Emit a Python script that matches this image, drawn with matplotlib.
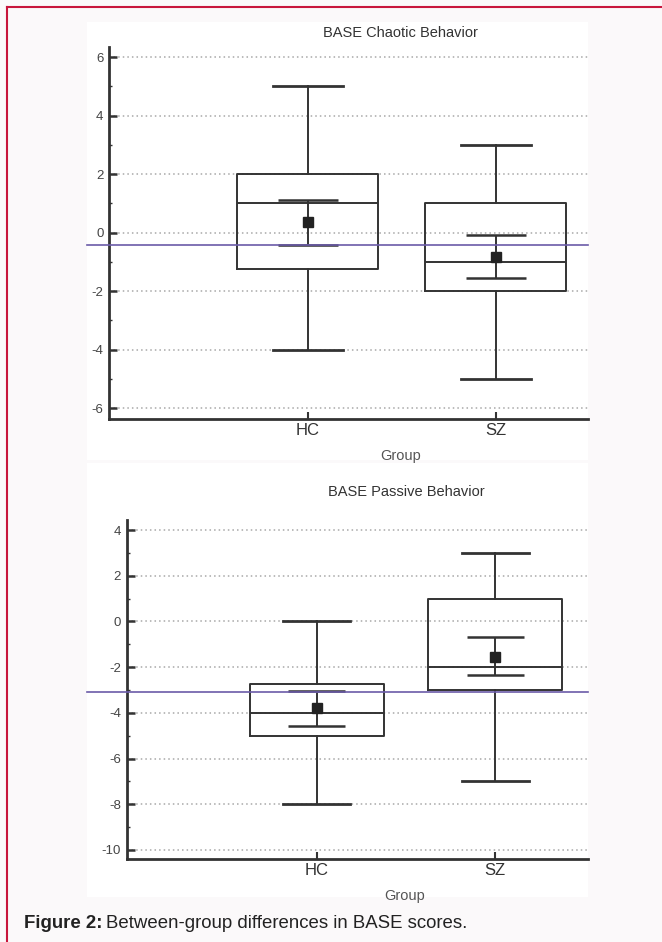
import matplotlib
matplotlib.use("Agg")
import matplotlib.pyplot as plt
from matplotlib.lines import Line2D
from matplotlib.patches import Rectangle
from matplotlib.ticker import MultipleLocator

plt.rcParams["font.family"] = ["Liberation Sans", "DejaVu Sans"]
plt.rcParams["axes.unicode_minus"] = False

GROUPS = ["HC", "SZ"]

# BASE Chaotic Behavior
chaotic_whislo = [-4, -5]
chaotic_q1 = [-1.25, -2]
chaotic_med = [1, -1]
chaotic_q3 = [2, 1]
chaotic_whishi = [5, 3]
chaotic_mean = [0.37, -0.83]
chaotic_ci_lo = [-0.43, -1.54]
chaotic_ci_hi = [1.13, -0.07]
chaotic_ref = -0.41

# BASE Passive Behavior
passive_whislo = [-8, -7]
passive_q1 = [-5, -3]
passive_med = [-4, -2]
passive_q3 = [-2.75, 1]
passive_whishi = [0, 3]
passive_mean = [-3.78, -1.56]
passive_ci_lo = [-4.56, -2.36]
passive_ci_hi = [-3.03, -0.7]
passive_ref = -3.07

W, H = 662, 942
LINE = "#333333"
GRID = "#a8a8a8"
PURPLE = "#6b5ba8"


def fx(px):
    return px / W


def fy(py):
    return 1 - py / H


def axes_rect(left, top, right, bottom):
    return [fx(left), fy(bottom), (right - left) / W, (bottom - top) / H]


def draw_panel(fig, rect, title, title_xy, xlabel_xy, ylim, xlim, data, ref, panel_left):
    whislo, q1, med, q3, whishi, mean, ci_lo, ci_hi = data
    ax = fig.add_axes(rect)
    ax.set_facecolor("none")
    positions = [1, 2]
    stats = []
    for i, g in enumerate(GROUPS):
        stats.append(dict(label=g, whislo=whislo[i], q1=q1[i], med=med[i],
                          q3=q3[i], whishi=whishi[i], mean=mean[i], fliers=[]))
    ax.bxp(stats, positions=positions, widths=0.75, capwidths=0.375,
           showmeans=False, patch_artist=False,
           boxprops=dict(color=LINE, linewidth=1.4),
           medianprops=dict(color=LINE, linewidth=1.4),
           whiskerprops=dict(color=LINE, linewidth=1.4),
           capprops=dict(color=LINE, linewidth=2.0),
           zorder=3)
    # confidence interval of the mean
    ax.vlines(positions, ci_lo, ci_hi, color=LINE, linewidth=1.4, zorder=4)
    for lo_hi in (ci_lo, ci_hi):
        for p, v in zip(positions, lo_hi):
            ax.hlines(v, p - 0.16, p + 0.16, color=LINE, linewidth=1.8, zorder=4)
    ax.plot(positions, mean, linestyle="none", marker="s", markersize=6.5,
            color="#222222", zorder=5)

    # reference line spanning the whole panel
    x0 = (panel_left - rect[0] * W) / (rect[2] * W)
    ax.axhline(ref, xmin=x0, xmax=1, color=PURPLE, linewidth=1.2,
               clip_on=False, zorder=6)

    ax.set_xlim(xlim)
    ax.set_ylim(ylim)
    ax.yaxis.set_major_locator(MultipleLocator(2))
    ax.yaxis.set_minor_locator(MultipleLocator(1))
    ax.grid(axis="y", which="major", color=GRID, linestyle=(0, (1, 2)),
            linewidth=1.1, zorder=0)
    ax.set_axisbelow(True)
    for side in ("top", "right"):
        ax.spines[side].set_visible(False)
    for side in ("left", "bottom"):
        ax.spines[side].set_color(LINE)
        ax.spines[side].set_linewidth(2.0)
    ax.tick_params(axis="y", which="major", direction="in", length=6, width=1.8,
                   color=LINE, labelsize=9.5, labelcolor="#444444", pad=4)
    ax.tick_params(axis="y", which="minor", direction="in", length=2.5, width=1,
                   color=LINE)
    ax.set_xticks(positions)
    ax.set_xticklabels(GROUPS)
    ax.tick_params(axis="x", which="major", direction="in", length=5, width=1.5,
                   color=LINE, labelsize=12, labelcolor="#333333", pad=3)
    ax.set_xlabel("Group", fontsize=10.5, color="#555555")
    ax.xaxis.set_label_coords(*xlabel_xy)
    fig.text(fx(title_xy[0]), fy(title_xy[1]), title, ha="center", va="center",
             fontsize=10.5, color="#333333")
    return ax


fig = plt.figure(figsize=(W / 100, H / 100), dpi=100)
fig.patch.set_facecolor("#fbf9fa")

# white panels behind the plots
fig.patches.append(Rectangle((fx(87), fy(460)), (588 - 87) / W, (460 - 22) / H,
                             transform=fig.transFigure, facecolor="white",
                             edgecolor="none", zorder=-5))
fig.patches.append(Rectangle((fx(87), fy(897)), (588 - 87) / W, (897 - 463) / H,
                             transform=fig.transFigure, facecolor="white",
                             edgecolor="none", zorder=-5))

# crimson frame lines
fig.lines.append(Line2D([fx(7), 1], [fy(7), fy(7)], transform=fig.transFigure,
                        color="#c8163c", linewidth=1.5))
fig.lines.append(Line2D([fx(7), fx(7)], [fy(7), 0], transform=fig.transFigure,
                        color="#c8163c", linewidth=1.5))

top_rect = axes_rect(109, 46.7, 588, 419)
draw_panel(fig, top_rect, "BASE Chaotic Behavior", (400, 33),
           ((401 - 109) / 479, (419 - 449) / 372.3), (-6.37, 6.36), (-0.058, 2.49),
           (chaotic_whislo, chaotic_q1, chaotic_med, chaotic_q3, chaotic_whishi,
            chaotic_mean, chaotic_ci_lo, chaotic_ci_hi), chaotic_ref, 87)

bot_rect = axes_rect(126.6, 520, 588, 859.3)
draw_panel(fig, bot_rect, "BASE Passive Behavior", (406, 492),
           ((405 - 126.6) / 461.4, (859.3 - 889) / 339.3), (-10.41, 4.44), (-0.064, 2.52),
           (passive_whislo, passive_q1, passive_med, passive_q3, passive_whishi,
            passive_mean, passive_ci_lo, passive_ci_hi), passive_ref, 87)

# caption
cap_bold = fig.text(fx(24), fy(923), "Figure 2:", fontsize=13.4, fontweight="bold",
                    color="#222222", va="center", ha="left")
fig.canvas.draw()
bb = cap_bold.get_window_extent()
fig.text(bb.x1 / W + 4 / W, fy(923), "Between-group differences in BASE scores.",
         fontsize=13.4, color="#222222", va="center", ha="left")

fig.savefig("out.png", dpi=100, facecolor=fig.get_facecolor())
